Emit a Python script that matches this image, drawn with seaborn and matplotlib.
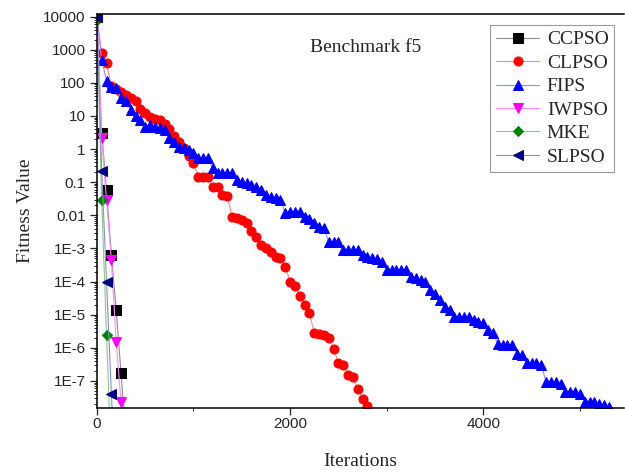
import numpy as np
import pandas as pd
import matplotlib
matplotlib.use('Agg')
import matplotlib.pyplot as plt
import matplotlib.ticker as mticker
import seaborn as sns

sns.set_style('ticks')
plt.rcParams['font.family'] = ['Liberation Serif', 'DejaVu Serif']

# values, stored as log10(fitness)
ccpso_it = [0, 50, 100, 150, 200, 250, 300]
ccpso_log = [4.0, 0.48, -1.24, -3.2, -4.86, -6.76, -8.6]

clpso_it = list(range(0, 2801, 50))
clpso_log = [4.0, 2.89, 2.59, 1.9, 1.8, 1.72, 1.62, 1.55, 1.45, 1.2,
             1.1, 0.98, 0.92, 0.88, 0.75, 0.6, 0.4, 0.2, 0.02, -0.2,
             -0.43, -0.83, -0.83, -0.83, -1.14, -1.14, -1.39, -1.42, -2.04, -2.09,
             -2.14, -2.22, -2.47, -2.65, -2.9, -3.0, -3.1, -3.25, -3.3, -3.55,
             -4.0, -4.14, -4.43, -4.71, -4.96, -5.55, -5.59, -5.62, -5.69, -6.02,
             -6.45, -6.52, -6.82, -6.89, -7.23, -7.53, -7.76]

fips_it = list(range(0, 5301, 50))
fips_log = [4.0, 2.69, 2.07, 1.89, 1.84, 1.53, 1.46, 1.18, 1.0, 0.88,
            0.68, 0.73, 0.68, 0.63, 0.58, 0.33, 0.22, 0.07, 0.02, -0.03,
            -0.13, -0.28, -0.28, -0.28, -0.58, -0.73, -0.73, -0.73, -0.73, -0.93,
            -0.98, -1.03, -1.08, -1.15, -1.24, -1.39, -1.44, -1.49, -1.54, -1.92,
            -1.89, -1.89, -1.89, -2.04, -2.12, -2.24, -2.34, -2.39, -2.8, -2.8,
            -2.8, -3.05, -3.05, -3.05, -3.05, -3.2, -3.25, -3.3, -3.33, -3.4,
            -3.65, -3.65, -3.65, -3.65, -3.65, -3.85, -3.9, -3.95, -4.0, -4.26,
            -4.36, -4.56, -4.76, -4.86, -5.06, -5.06, -5.06, -5.06, -5.16, -5.21,
            -5.26, -5.47, -5.56, -5.87, -5.92, -5.92, -5.92, -6.17, -6.22, -6.47,
            -6.47, -6.47, -6.52, -7.03, -7.03, -7.03, -7.08, -7.33, -7.33, -7.33,
            -7.38, -7.63, -7.63, -7.63, -7.68, -7.73, -7.8]

iwpso_it = [0, 50, 100, 150, 200, 250, 300]
iwpso_log = [4.0, 0.33, -1.54, -3.35, -5.82, -7.63, -9.5]

mke_it = [0, 50, 100, 150]
mke_log = [3.9, -1.54, -5.62, -9.5]

slpso_it = [0, 50, 100, 150, 200]
slpso_log = [4.0, -0.65, -4.0, -7.38, -10.5]

series = [
    ('CCPSO', ccpso_it, ccpso_log, 's', 'black', '#8c8c8c'),
    ('CLPSO', clpso_it, clpso_log, 'o', 'red', '#ff8c8c'),
    ('FIPS', fips_it, fips_log, '^', 'blue', '#8c8cff'),
    ('IWPSO', iwpso_it, iwpso_log, 'v', 'magenta', '#ff8cff'),
    ('MKE', mke_it, mke_log, 'D', 'green', '#8cc88c'),
    ('SLPSO', slpso_it, slpso_log, '<', 'navy', '#8c8cc8'),
]

fig = plt.figure(figsize=(6.25, 4.73), dpi=100)
ax = fig.add_axes([0.155, 0.1364, 0.844, 0.834])

for name, it, lg, mk, mc, lc in series:
    df = pd.DataFrame({'it': it, 'val': np.power(10.0, lg)})
    ms = 5.5 if mk == 'D' else 6.5
    sns.lineplot(data=df, x='it', y='val', ax=ax, label=name, color=lc,
                 linewidth=0.8, marker=mk, markersize=ms,
                 markerfacecolor=mc, markeredgecolor=mc, estimator=None,
                 sort=False)

ax.set_yscale('log')
ax.set_xlim(0, 5460)
ax.set_ylim(1.48e-8, 1.2e4)

ytick_vals = [1e4, 1e3, 1e2, 1e1, 1, 0.1, 0.01, 1e-3, 1e-4, 1e-5, 1e-6, 1e-7]
ytick_labels = ['10000', '1000', '100', '10', '1', '0.1', '0.01',
                '1E-3', '1E-4', '1E-5', '1E-6', '1E-7']
ax.yaxis.set_major_locator(mticker.FixedLocator(ytick_vals))
ax.yaxis.set_major_formatter(mticker.FixedFormatter(ytick_labels))
ax.yaxis.set_minor_locator(mticker.LogLocator(base=10, subs=np.arange(2, 10), numticks=30))
ax.yaxis.set_minor_formatter(mticker.NullFormatter())

ax.xaxis.set_major_locator(mticker.MultipleLocator(2000))
ax.xaxis.set_minor_locator(mticker.MultipleLocator(1000))

for lab in ax.get_xticklabels() + ax.get_yticklabels():
    lab.set_family(['Liberation Sans', 'DejaVu Sans'])
    lab.set_fontsize(11)
ax.tick_params(which='major', direction='out', length=5, width=0.9, pad=3)
ax.tick_params(which='minor', direction='out', length=2.5, width=0.7)
ax.tick_params(axis='x', which='major', pad=1)

for s in ['left', 'bottom', 'top']:
    ax.spines[s].set_visible(True)
    ax.spines[s].set_linewidth(1.1)
    ax.spines[s].set_color('black')
ax.spines['right'].set_visible(False)

ax.set_xlabel('Iterations', fontsize=14, labelpad=16)
ax.set_ylabel('Fitness Value', fontsize=14, labelpad=7)

ax.text(0.509, 0.916, 'Benchmark f5', transform=ax.transAxes, fontsize=14,
        ha='center', va='center')

leg = ax.legend(loc='upper right', bbox_to_anchor=(0.981, 0.972), borderaxespad=0,
                fontsize=14, frameon=True, fancybox=False, edgecolor='#808080',
                handlelength=2.2, labelspacing=0.3, borderpad=0.3,
                handletextpad=0.4, numpoints=1)
leg.get_frame().set_linewidth(0.8)

fig.savefig('out.png', dpi=100)
